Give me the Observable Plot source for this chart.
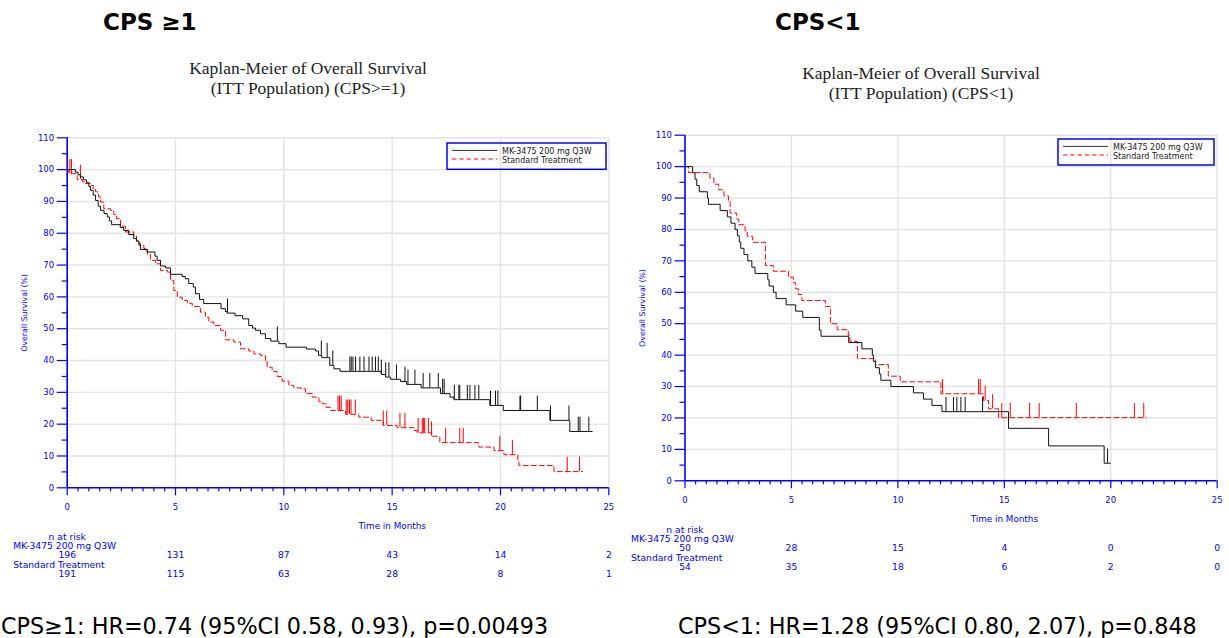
<!DOCTYPE html>
<html>
<head>
<meta charset="utf-8">
<script src="https://cdn.jsdelivr.net/npm/d3@7"></script>
<script src="https://cdn.jsdelivr.net/npm/@observablehq/plot@0.6"></script>
<style>
  body { margin: 0; background: #fff; }
  #page { position: relative; width: 1229px; height: 638px; background: #fff; overflow: hidden; font-family: "DejaVu Sans", sans-serif; }
  .abs { position: absolute; white-space: nowrap; }
  .head { font-weight: bold; font-size: 23px; color: #000; line-height: 1; }
  .title { font-family: "Liberation Serif", "Times New Roman", serif; font-size: 17.5px; color: #222; text-align: center; line-height: 20px; transform: translateX(-50%); }
  .cap { font-size: 22.3px; color: #000; line-height: 1; }
  .plotwrap { position: absolute; }
</style>
</head>
<body>
<div id="page"></div>
<script>
// ---------- DATA ----------
const riskTimes = [0, 5, 10, 15, 20, 25];
const cps1RiskMk = [196, 131, 87, 43, 14, 2];
const cps1RiskStd = [191, 115, 63, 28, 8, 1];
const cps0RiskMk = [50, 28, 15, 4, 0, 0];
const cps0RiskStd = [54, 35, 18, 6, 2, 0];

const armMk = "MK-3475 200 mg Q3W";
const armStd = "Standard Treatment";

// CPS >= 1, MK-3475 (step times in months, survival %)
const cps1MkTimes = [0, 0.38, 0.5, 0.61, 0.75, 0.89, 1.0, 1.08, 1.2, 1.31, 1.43, 1.54, 1.7, 1.85, 1.95, 2.05, 2.45, 2.61, 2.84, 3.07, 3.2, 3.31, 3.38, 3.69, 4.05, 4.15, 4.31, 4.54, 4.77, 5.3, 5.45, 5.61, 5.82, 5.92, 6.11, 6.3, 7.1, 7.3, 7.38, 7.75, 8.1, 8.38, 8.55, 8.69, 8.92, 9.15, 9.4, 9.77, 10.1, 11.05, 11.46, 11.6, 11.75, 12.12, 12.31, 12.6, 14.5, 14.7, 14.93, 15.39, 15.67, 16.34, 17.23, 17.67, 17.85, 19.51, 20.13, 22.28, 23.2, 24.24];
const cps1MkSurv = [100, 99.2, 98.4, 97.7, 96.8, 95.9, 94.7, 93.5, 92.0, 90.3, 88.5, 87.2, 86.2, 85.1, 83.9, 82.7, 81.8, 80.9, 79.6, 78.3, 77.5, 76.7, 74.9, 74.1, 72.8, 71.5, 69.7, 69.1, 67.1, 66.4, 65.7, 64.2, 63.1, 61.0, 59.2, 57.9, 56.3, 55.4, 54.9, 54.1, 53.1, 51.0, 50.2, 49.5, 48.4, 46.9, 46.1, 45.3, 44.2, 43.6, 43.0, 41.6, 40.9, 38.5, 37.4, 36.6, 35.6, 34.8, 34.1, 33.4, 32.5, 31.4, 29.6, 28.5, 27.7, 25.9, 24.3, 21.2, 17.7, 17.7];
const cps1MkCensor = [7.4, 9.7, 11.73, 12.0, 12.26, 13.05, 13.11, 13.19, 13.31, 13.51, 13.7, 13.93, 14.08, 14.23, 14.36, 14.5, 14.7, 14.85, 15.2, 15.59, 15.73, 16.05, 16.43, 16.74, 17.13, 17.33, 17.4, 17.87, 18.08, 18.12, 18.47, 18.59, 18.82, 19.0, 19.54, 19.77, 19.88, 20.9, 20.93, 21.7, 22.31, 23.16, 23.59, 23.67, 24.08];

// CPS >= 1, Standard Treatment
const cps1StdTimes = [0, 0.08, 0.46, 0.7, 0.84, 1.08, 1.2, 1.31, 1.45, 1.54, 1.69, 2.0, 2.15, 2.28, 2.46, 2.69, 3.07, 3.2, 3.31, 3.54, 3.7, 3.85, 4.08, 4.31, 4.62, 4.77, 4.92, 5.08, 5.31, 5.55, 5.77, 6.15, 6.38, 6.54, 6.77, 7.08, 7.31, 7.69, 8.0, 8.38, 8.62, 8.92, 9.15, 9.23, 9.46, 9.69, 9.92, 10.23, 10.46, 10.8, 11.0, 11.31, 11.62, 11.77, 11.95, 12.15, 12.85, 13.46, 14.03, 14.59, 15.23, 16.0, 16.16, 16.82, 17.2, 19.0, 19.7, 20.16, 20.8, 20.85, 22.47, 23.78];
const cps1StdSurv = [100, 98.7, 96.9, 96.2, 95.6, 95.0, 94.0, 93.0, 91.4, 89.8, 87.7, 87.2, 85.9, 84.6, 82.2, 80.4, 79.3, 77.8, 76.2, 75.2, 73.4, 71.5, 70.4, 68.3, 67.8, 65.2, 62.0, 59.9, 58.9, 58.0, 57.0, 55.2, 53.6, 52.1, 51.0, 49.5, 46.5, 45.8, 43.7, 43.0, 42.1, 41.6, 40.0, 37.9, 36.6, 35.0, 33.5, 32.2, 31.4, 31.1, 29.6, 28.5, 27.1, 26.4, 25.3, 24.3, 23.1, 22.2, 21.2, 19.6, 18.9, 18.0, 17.3, 16.2, 14.2, 12.8, 11.7, 10.4, 8.6, 7.0, 5.1, 5.1];
const cps1StdCensor = [0.12, 0.2, 0.61, 12.5, 12.57, 12.65, 12.88, 12.95, 13.03, 13.1, 13.3, 14.59, 14.75, 15.36, 15.59, 16.2, 16.39, 16.44, 16.5, 16.67, 16.82, 17.47, 18.12, 18.28, 19.97, 20.55, 23.08, 23.65];

// CPS < 1, MK-3475
const cps0MkTimes = [0, 0.36, 0.47, 0.55, 0.67, 1.05, 1.1, 1.65, 1.99, 2.16, 2.35, 2.46, 2.55, 2.62, 2.77, 2.95, 3.14, 3.29, 3.89, 3.95, 4.15, 4.28, 4.75, 5.2, 5.53, 6.31, 6.39, 7.69, 8.31, 8.8, 8.85, 8.95, 9.13, 9.2, 9.67, 10.73, 11.2, 11.6, 12.07, 15.2, 17.08, 19.69, 19.98];
const cps0MkSurv = [100, 98, 96, 94, 92, 90, 88, 86, 84, 82, 80, 78, 76, 74, 72, 70, 68, 66, 64, 62, 60, 58, 56, 54, 52, 48, 46, 44, 42, 40, 38, 36, 34, 32, 30, 28, 26, 24, 22, 16.7, 11.1, 5.6, 5.6];
const cps0MkCensor = [12.26, 12.61, 12.77, 12.96, 13.16, 13.98, 19.85];

// CPS < 1, Standard Treatment
const cps0StdTimes = [0, 0.16, 1.17, 1.36, 1.58, 1.83, 2.04, 2.12, 2.43, 2.53, 2.82, 2.93, 3.18, 3.78, 4.15, 4.86, 5.09, 5.2, 5.33, 5.49, 6.59, 6.83, 7.15, 7.67, 7.75, 8.1, 8.95, 9.55, 10.11, 12.02, 14.02, 14.26, 14.73, 21.67];
const cps0StdSurv = [100, 98.1, 96.3, 94.4, 92.6, 90.7, 88.9, 85.2, 83.3, 81.5, 79.6, 77.8, 75.9, 68.5, 66.7, 64.8, 63.0, 61.1, 59.3, 57.4, 55.5, 50.0, 48.1, 46.3, 44.4, 38.9, 37.0, 33.3, 31.5, 27.7, 25.6, 22.9, 20.1, 20.1];
const cps0StdCensor = [12.1, 13.79, 13.87, 14.1, 14.45, 14.88, 15.28, 16.19, 16.64, 18.38, 21.11, 21.55];

// ---------- HELPERS ----------
const blue = "#0000ff";
function survAt(times, surv, t) {
  let s = surv[0];
  for (let i = 0; i < times.length; i++) if (times[i] <= t) s = surv[i];
  return s;
}
function panel(o) {
  const mk = o.mkT.map((t, i) => ({t, s: o.mkS[i]}));
  const st = o.stT.map((t, i) => ({t, s: o.stS[i]}));
  const mkC = o.mkC.map(t => ({t, s: survAt(o.mkT, o.mkS, t)}));
  const stC = o.stC.map(t => ({t, s: survAt(o.stT, o.stS, t)}));
  const minorX = d3.range(0, 25.01, 0.5).filter(v => v % 5 !== 0);
  const minorY = d3.range(5, 110, 10);
  const txt = {fill: blue, fontSize: 9.2, frameAnchor: "bottom"};
  return Plot.plot({
    width: o.width, height: o.height,
    marginLeft: o.mL, marginRight: o.mR, marginTop: o.mT, marginBottom: o.mB,
    x: {domain: [0, 25]},
    y: {domain: [0, 110]},
    style: {fontFamily: "'DejaVu Sans', sans-serif", fontSize: "8.5px", background: "transparent", overflow: "visible"},
    marks: [
      Plot.gridX(d3.range(5, 26, 5), {stroke: "#e3e3e3", strokeOpacity: 1, strokeWidth: 1.4}),
      Plot.gridY(d3.range(10, 111, 10), {stroke: "#e3e3e3", strokeOpacity: 1, strokeWidth: 1.4}),
      Plot.line(st, {x: "t", y: "s", curve: "step-after", stroke: "#ff0000", strokeWidth: 1, strokeDasharray: "5,3"}),
      Plot.ruleX(stC, {x: "t", y1: "s", y2: d => d.s + 4.5, stroke: "#ff0000", strokeWidth: 1}),
      Plot.line(mk, {x: "t", y: "s", curve: "step-after", stroke: "#111", strokeWidth: 1}),
      Plot.ruleX(mkC, {x: "t", y1: "s", y2: d => d.s + 4.5, stroke: "#111", strokeWidth: 1}),
      Plot.axisY(minorY, {tickSize: 5, stroke: blue, fill: "none", label: null, strokeWidth: 1.2}),
      Plot.axisY(d3.range(0, 111, 10), {tickSize: 10, tickPadding: 3, color: blue, label: null, fontSize: 8.5, strokeWidth: 1.2}),
      Plot.axisX(minorX, {tickSize: 4, stroke: blue, fill: "none", label: null, strokeWidth: 1.2}),
      Plot.axisX(riskTimes, {tickSize: 8, tickPadding: 8, color: blue, label: null, fontSize: 8.5, strokeWidth: 1.2}),
      Plot.ruleX([0], {stroke: blue, strokeWidth: 1.6}),
      Plot.ruleY([0], {stroke: blue, strokeWidth: 1.6}),
      Plot.text(["Overall Survival (%)"], {frameAnchor: "left", dx: -43, rotate: -90, textAnchor: "middle", fill: blue, fontSize: 7.8}),
      Plot.text(["Time in Months"], {x: [15], ...txt, fontSize: 8.8, dy: 41.5}),
      Plot.text(["n at risk"], {x: [0], ...txt, dy: 52, textAnchor: "middle"}),
      Plot.text([armMk], {...txt, frameAnchor: "bottom-left", dx: -54, dy: 61.5, textAnchor: "start"}),
      Plot.text(riskTimes, {x: d => d, text: (d, i) => o.riskMk[i], ...txt, dy: 70.5}),
      Plot.text([armStd], {...txt, frameAnchor: "bottom-left", dx: -54, dy: 80, textAnchor: "start"}),
      Plot.text(riskTimes, {x: d => d, text: (d, i) => o.riskStd[i], ...txt, dy: 89.5})
    ]
  });
}

const page = document.getElementById("page");
function addDiv(cls, html, style) {
  const d = document.createElement("div");
  d.className = "abs " + cls;
  d.innerHTML = html;
  Object.assign(d.style, style);
  page.appendChild(d);
  return d;
}
function legend(left, top, w, h) {
  const ns = "http://www.w3.org/2000/svg";
  const svg = document.createElementNS(ns, "svg");
  svg.setAttribute("width", w); svg.setAttribute("height", h);
  svg.style.position = "absolute"; svg.style.left = left + "px"; svg.style.top = top + "px"; svg.style.overflow = "visible";
  svg.innerHTML =
    `<rect x="0" y="0" width="${w}" height="${h}" fill="none" stroke="${blue}" stroke-width="1.5"/>` +
    `<line x1="5" x2="50" y1="7.4" y2="7.4" stroke="#333" stroke-width="1"/>` +
    `<line x1="5" x2="50" y1="16" y2="16" stroke="#ff0000" stroke-width="1" stroke-dasharray="4.3,3"/>` +
    `<text x="55" y="8.6" dominant-baseline="central" font-family="DejaVu Sans" font-size="8" fill="#222">${armMk}</text>` +
    `<text x="55" y="17.6" dominant-baseline="central" font-family="DejaVu Sans" font-size="8" fill="#222">${armStd}</text>`;
  page.appendChild(svg);
}

// ---------- LEFT PANEL ----------
const left = panel({width: 620, height: 480, mL: 66.7, mR: 11.7, mT: 17.3, mB: 112.7,
  mkT: cps1MkTimes, mkS: cps1MkSurv, stT: cps1StdTimes, stS: cps1StdSurv,
  mkC: cps1MkCensor, stC: cps1StdCensor, riskMk: cps1RiskMk, riskStd: cps1RiskStd});
const lw = document.createElement("div"); lw.className = "plotwrap"; lw.style.left = "0px"; lw.style.top = "120px";
lw.appendChild(left); page.appendChild(lw);

// ---------- RIGHT PANEL ----------
const right = panel({width: 609, height: 480, mL: 64.5, mR: 12.3, mT: 14.7, mB: 119.7,
  mkT: cps0MkTimes, mkS: cps0MkSurv, stT: cps0StdTimes, stS: cps0StdSurv,
  mkC: cps0MkCensor, stC: cps0StdCensor, riskMk: cps0RiskMk, riskStd: cps0RiskStd});
const rw = document.createElement("div"); rw.className = "plotwrap"; rw.style.left = "620px"; rw.style.top = "120px";
rw.appendChild(right); page.appendChild(rw);

legend(446.7, 142.7, 159, 26.3);
legend(1058.3, 139.3, 156, 26);

// ---------- TEXT ----------
addDiv("head", "CPS ≥1", {left: "103px", top: "11px"});
addDiv("head", "CPS&lt;1", {left: "775px", top: "11px"});
addDiv("title", "Kaplan-Meier of Overall Survival<br>(ITT Population) (CPS&gt;=1)", {left: "308px", top: "58px"});
addDiv("title", "Kaplan-Meier of Overall Survival<br>(ITT Population) (CPS&lt;1)", {left: "921px", top: "63px"});
addDiv("cap", "CPS≥1: HR=0.74 (95%CI 0.58, 0.93), p=0.00493", {left: "1px", top: "615px"});
addDiv("cap", "CPS&lt;1: HR=1.28 (95%CI 0.80, 2.07), p=0.848", {left: "678px", top: "615px"});
</script>
</body>
</html>
